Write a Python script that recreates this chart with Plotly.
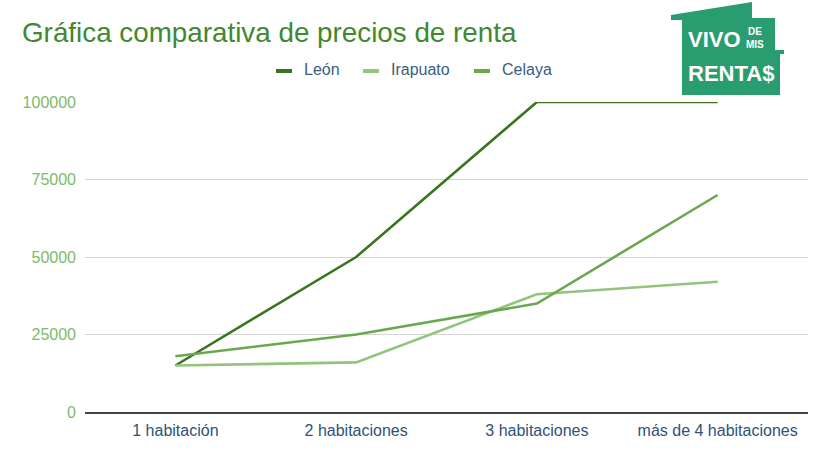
import plotly.graph_objects as go

categories = ["1 habitación", "2 habitaciones", "3 habitaciones", "más de 4 habitaciones"]
series_names = ["León", "Irapuato", "Celaya"]
leon = [15000, 50000, 100000, 100000]
irapuato = [15000, 16000, 38000, 42000]
celaya = [18000, 25000, 35000, 70000]
y_ticks = [0, 25000, 50000, 75000, 100000]
colors = ["#38761d", "#93c47d", "#6aa84f"]

W, H = 825, 456
L, R, T, B = 85, 17, 102, 44
PW, PH = W - L - R, H - T - B

def px(x):
    return (x - L) / PW

def py(y):
    return (H - B - y) / PH

FONT = "Arial, Liberation Sans, sans-serif"

fig = go.Figure()
for name, vals, col in zip(series_names, [leon, irapuato, celaya], colors):
    fig.add_trace(go.Scatter(x=categories, y=vals, mode="lines", name=name,
                             line=dict(color=col, width=2.6), cliponaxis=False,
                             showlegend=False))

# manual legend
leg_sym_x = [276, 363, 474]
for name, col, sx in zip(series_names, colors, leg_sym_x):
    fig.add_shape(type="line", xref="paper", yref="paper",
                  x0=px(sx), x1=px(sx + 16), y0=py(71), y1=py(71),
                  line=dict(color=col, width=4))
    fig.add_annotation(xref="paper", yref="paper", x=px(sx + 26), y=py(70),
                       text=name, showarrow=False, xanchor="left", yanchor="middle",
                       font=dict(family=FONT, size=16, color="#3a5d80"))

# logo (house shape)
pts = [(671, 15), (752, 2), (752, 18), (775, 18), (775, 50), (784, 50), (784, 54),
       (780, 54), (780, 95), (682, 95), (682, 20), (671, 20)]
path = "M " + " L ".join(f"{px(x):.5f},{py(y):.5f}" for x, y in pts) + " Z"
fig.add_shape(type="path", xref="paper", yref="paper", path=path,
              fillcolor="#2a9d70", line=dict(width=0), layer="above")
logo_font = "Liberation Sans, Arial, sans-serif"
fig.add_annotation(xref="paper", yref="paper", x=px(714), y=py(39), text="<b>VIVO</b>",
                   showarrow=False, xanchor="center", yanchor="middle",
                   font=dict(family=logo_font, size=22, color="white"))
fig.add_annotation(xref="paper", yref="paper", x=px(755), y=py(31), text="<b>DE</b>",
                   showarrow=False, xanchor="center", yanchor="middle",
                   font=dict(family=logo_font, size=10, color="white"))
fig.add_annotation(xref="paper", yref="paper", x=px(755), y=py(44), text="<b>MIS</b>",
                   showarrow=False, xanchor="center", yanchor="middle",
                   font=dict(family=logo_font, size=10, color="white"))
fig.add_annotation(xref="paper", yref="paper", x=px(731), y=py(73), text="<b>RENTA$</b>",
                   showarrow=False, xanchor="center", yanchor="middle",
                   font=dict(family=logo_font, size=22, color="white"))

fig.update_layout(
    width=W, height=H,
    margin=dict(l=L, r=R, t=T, b=B),
    paper_bgcolor="white", plot_bgcolor="white",
    title=dict(text="Gráfica comparativa de precios de renta", xref="container", yref="container",
               x=22 / W, xanchor="left", y=1 - 32 / H, yanchor="middle",
               font=dict(family=FONT, size=27.8, color="#41882f")),
    xaxis=dict(type="category", range=[-0.5, 3.5], showgrid=False, showline=True,
               linecolor="#444444", linewidth=2, ticks="", tickfont=dict(family=FONT, size=16, color="#2f5176"),
               ticklabelstandoff=3, fixedrange=True),
    yaxis=dict(range=[0, 100000], tickvals=y_ticks, ticktext=[str(v) for v in y_ticks],
               showgrid=True, gridcolor="#d4d4d4", gridwidth=1, zeroline=False,
               ticks="", tickfont=dict(family=FONT, size=16, color="#7cba68"),
               ticklabelstandoff=8, fixedrange=True),
    showlegend=False,
)

fig.write_html("out.html")
